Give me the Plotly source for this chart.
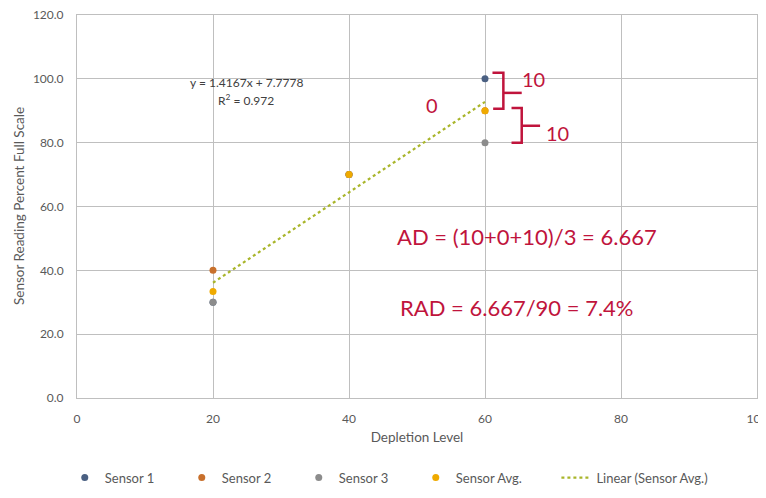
import plotly.graph_objects as go

depletion = [20, 40, 60]
sensor1 = [30, 70, 100]
sensor2 = [40, 70, 90]
sensor3 = [30, 70, 80]
sensor_avg = [33.33, 70, 90]
trend_slope = 1.4167
trend_intercept = 7.7778
trend_x = [20, 60]
trend_y = [trend_slope * x + trend_intercept for x in trend_x]

x_ticks = [0, 20, 40, 60, 80, 100]
y_ticks = [0, 20, 40, 60, 80, 100, 120]

FONT = "Lato"
RED = "#c0143c"
GRID = "#bfbfbf"
TXT = "#595959"

fig = go.Figure()
fig.add_trace(go.Scatter(x=depletion, y=sensor1, mode="markers", name="Sensor 1",
                         marker=dict(color="#4a6082", size=7)))
fig.add_trace(go.Scatter(x=depletion, y=sensor2, mode="markers", name="Sensor 2",
                         marker=dict(color="#c8702c", size=7)))
fig.add_trace(go.Scatter(x=depletion, y=sensor3, mode="markers", name="Sensor 3",
                         marker=dict(color="#8c8c8c", size=7)))
fig.add_trace(go.Scatter(x=depletion, y=sensor_avg, mode="markers", name="Sensor Avg.",
                         marker=dict(color="#efaa00", size=7)))
fig.add_trace(go.Scatter(x=trend_x, y=trend_y, mode="lines", name="Linear (Sensor Avg.)",
                         legend="legend2",
                         line=dict(color="#a9b52a", width=2.2, dash="dot")))

# y axis title
fig.add_annotation(xref="paper", yref="paper", x=-0.086, y=0.5, xanchor="center",
                   yanchor="middle", textangle=-90, showarrow=False,
                   text="Sensor Reading Percent Full Scale",
                   font=dict(family=FONT, size=13.5, color=TXT))

# equation
fig.add_annotation(x=24.9, y=99, text="y = 1.4167x + 7.7778", showarrow=False,
                   font=dict(family=FONT, size=12, color="#404040"))
fig.add_annotation(x=24.9, y=93.4, text="R<sup>2</sup> = 0.972", showarrow=False,
                   font=dict(family=FONT, size=12, color="#404040"))

# red annotations
fig.add_annotation(x=52.2, y=91.8, text="0", showarrow=False,
                   font=dict(family=FONT, size=20, color=RED))
fig.add_annotation(x=67.1, y=100.0, text="10", showarrow=False,
                   font=dict(family=FONT, size=20, color=RED))
fig.add_annotation(x=70.7, y=83.1, text="10", showarrow=False,
                   font=dict(family=FONT, size=20, color=RED))
fig.add_annotation(x=46.8, y=50.5, text="AD = (10+0+10)/3 = 6.667", showarrow=False,
                   xanchor="left", font=dict(family=FONT, size=22, color=RED))
fig.add_annotation(x=47.2, y=28.5, text="RAD = 6.667/90 = 7.4%", showarrow=False,
                   xanchor="left", font=dict(family=FONT, size=22, color=RED))

# brackets
fig.add_shape(type="path", path="M 61.1 101.9 L 62.7 101.9 L 62.7 90.6 L 61.2 90.6",
              line=dict(color=RED, width=2.5))
fig.add_shape(type="line", x0=62.7, y0=95.6, x1=65.4, y1=95.6,
              line=dict(color=RED, width=2.5))
fig.add_shape(type="path", path="M 63.9 90.9 L 65.4 90.9 L 65.4 80.0 L 63.9 80.0",
              line=dict(color=RED, width=2.5))
fig.add_shape(type="line", x0=65.4, y0=85.3, x1=68.1, y1=85.3,
              line=dict(color=RED, width=2.5))

fig.update_layout(
    width=758, height=490,
    margin=dict(l=69, r=9, t=7, b=100, autoexpand=False),
    paper_bgcolor="white", plot_bgcolor="white",
    font=dict(family=FONT, size=12, color=TXT),
    showlegend=True,
    legend=dict(orientation="h", x=-0.018, xanchor="left", y=-0.208, yanchor="middle",
                entrywidth=72, entrywidthmode="pixels",
                font=dict(family=FONT, size=13, color=TXT)),
    legend2=dict(orientation="h", x=0.705, xanchor="left", y=-0.208, yanchor="middle",
                 font=dict(family=FONT, size=13, color=TXT)),
)
fig.update_xaxes(range=[0, 100], tickvals=x_ticks, showgrid=True, gridcolor=GRID, gridwidth=1,
                 zeroline=False, showline=True, linecolor=GRID, mirror=True, automargin=False,
                 ticklabeloverflow="allow", ticklabelstandoff=10,
                 title=dict(text="Depletion Level", font=dict(size=13.5, color=TXT), standoff=7),
                 tickfont=dict(size=12, color=TXT))
fig.update_yaxes(range=[0, 120], tickvals=y_ticks, tickformat=".1f", showgrid=True,
                 gridcolor=GRID, gridwidth=1, zeroline=False, showline=True, linecolor=GRID,
                 mirror=True, automargin=False, ticklabelstandoff=10,
                 ticklabeloverflow="allow",
                 tickfont=dict(size=12, color=TXT))

fig.write_html("out.html")
